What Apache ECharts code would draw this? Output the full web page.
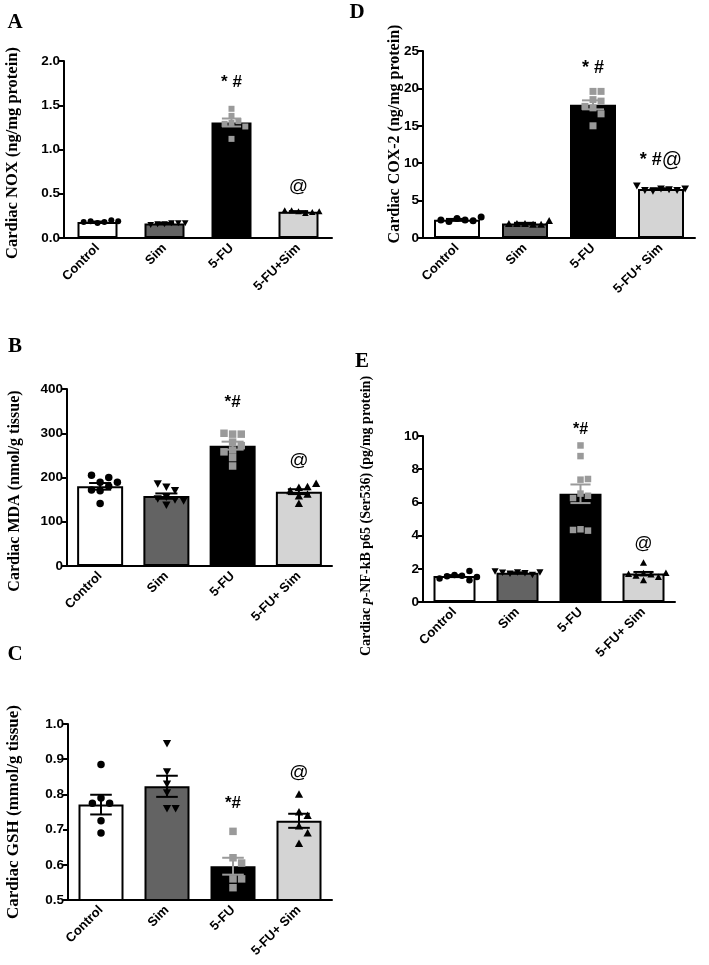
<!DOCTYPE html>
<html><head><meta charset="utf-8">
<script src="https://cdn.jsdelivr.net/npm/echarts@6/dist/echarts.min.js"></script>
<style>html,body{margin:0;padding:0;background:#fff}#c{width:709px;height:965px}</style>
</head><body><div id="c"></div>
<script>
// ---------- data ----------
const catsA = ['Control', 'Sim', '5-FU', '5-FU+Sim'];
const catsOther = ['Control', 'Sim', '5-FU', '5-FU+ Sim'];

// Panel A: Cardiac NOX (ng/mg protein)
const noxMeans = [0.18, 0.165, 1.305, 0.297];
const noxSem = [0.006, 0.006, 0.045, 0.007];
const noxControl = [0.17, 0.18, 0.19, 0.20, 0.18, 0.19];
const noxSim = [0.16, 0.17, 0.16, 0.17, 0.15, 0.17];
const noxFU = [1.46, 1.38, 1.32, 1.30, 1.29, 1.26, 1.12];
const noxFUSim = [0.30, 0.28, 0.31, 0.29, 0.31, 0.30];
const noxTicks = [0, 0.5, 1.0, 1.5, 2.0];

// Panel D: Cardiac COX-2 (ng/mg protein)
const coxMeans = [2.45, 1.95, 17.8, 6.55];
const coxSem = [0.1, 0.08, 0.6, 0.1];
const coxControl = [2.6, 2.4, 2.2, 2.3, 2.4, 2.8];
const coxSim = [1.9, 1.8, 1.9, 1.8, 1.9, 2.3];
const coxFU = [19.6, 19.6, 18.5, 18.3, 17.6, 17.4, 16.6, 15.0];
const coxFUSim = [6.6, 6.5, 6.3, 6.4, 6.4, 6.6, 7.0];
const coxTicks = [0, 5, 10, 15, 20, 25];

// Panel B: Cardiac MDA (nmol/g tissue)
const mdaMeans = [180, 158, 272, 168];
const mdaSem = [7.5, 6, 9, 5.5];
const mdaControl = [189, 200, 205, 189, 180, 170, 172, 141];
const mdaSim = [179, 171, 186, 156, 150, 138, 152, 148];
const mdaFU = [298, 298, 300, 280, 272, 262, 258, 245, 226];
const mdaFUSim = [177, 162, 170, 179, 186, 158, 141];
const mdaTicks = [0, 100, 200, 300, 400];

// Panel E: Cardiac p-NF-kB p65 (Ser536) (pg/mg protein)
const nfkbMeans = [1.56, 1.76, 6.52, 1.71];
const nfkbSem = [0.06, 0.03, 0.56, 0.1];
const nfkbControl = [1.62, 1.58, 1.55, 1.31, 1.42, 1.50, 1.86];
const nfkbSim = [1.80, 1.75, 1.72, 1.65, 1.78, 1.80, 1.85];
const nfkbFU = [9.43, 8.79, 7.37, 7.41, 6.53, 6.40, 6.26, 4.38, 4.30, 4.34];
const nfkbFUSim = [2.36, 1.72, 1.65, 1.58, 1.31, 1.50, 1.68, 1.75];
const nfkbTicks = [0, 2, 4, 6, 8, 10];

// Panel C: Cardiac GSH (mmol/g tissue)
const gshMeans = [0.771, 0.823, 0.596, 0.725];
const gshSem = [0.028, 0.03, 0.024, 0.02];
const gshControl = [0.885, 0.79, 0.775, 0.775, 0.725, 0.69];
const gshSim = [0.945, 0.865, 0.83, 0.805, 0.76, 0.76];
const gshFU = [0.695, 0.62, 0.605, 0.56, 0.56, 0.535];
const gshFUSim = [0.80, 0.75, 0.74, 0.71, 0.69, 0.66];
const gshTicks = [0.5, 0.6, 0.7, 0.8, 0.9, 1.0];

// significance marks: [category index, y value, stars/hash, at-sign]
const noxMarks = [[2, 1.76, '* #', ''], [3, 0.58, '', '@']];
const coxMarks = [[2, 22.7, '* #', ''], [3, 10.4, '* #', '@']];
const mdaMarks = [[2, 371, '*#', ''], [3, 238, '', '@']];
const nfkbMarks = [[2, 10.4, '*#', ''], [3, 3.5, '', '@']];
const gshMarks = [[2, 0.775, '*#', ''], [3, 0.862, '', '@']];

// ---------- styling / layout ----------
const SANS = 'Liberation Sans, Arial, sans-serif';
const SERIF = 'Liberation Serif, Times New Roman, serif';
const fills = ['#ffffff', '#636363', '#000000', '#d4d4d4'];
const ptColors = ['#000000', '#000000', '#9a9a9a', '#000000'];

const panels = [
  {letter: 'A', cats: catsA, means: noxMeans, sem: noxSem, pts: [noxControl, noxSim, noxFU, noxFUSim], ticks: noxTicks, dec: 1,
   shapes: ['circle', 'down', 'square', 'up'], grid: {left: 64, top: 61, width: 268, height: 177}, barWidth: 40, size: 6, marks: noxMarks, markSize: 17,
   title: 'Cardiac NOX (ng/mg protein)', tx: 13, ty: 153, tfs: 16.5, lx: 15, ly: 23},
  {letter: 'D', cats: catsOther, means: coxMeans, sem: coxSem, pts: [coxControl, coxSim, coxFU, coxFUSim], ticks: coxTicks, dec: 0,
   shapes: ['circle', 'up', 'square', 'down'], grid: {left: 423, top: 51, width: 272, height: 187}, barWidth: 46, size: 7, marks: coxMarks, markSize: 18,
   title: 'Cardiac COX-2 (ng/mg protein)', tx: 395, ty: 134, tfs: 16, lx: 357, ly: 13},
  {letter: 'B', cats: catsOther, means: mdaMeans, sem: mdaSem, pts: [mdaControl, mdaSim, mdaFU, mdaFUSim], ticks: mdaTicks, dec: 0,
   shapes: ['circle', 'down', 'square', 'up'], grid: {left: 67, top: 389, width: 265, height: 177}, barWidth: 46, size: 7.5, marks: mdaMarks, markSize: 17,
   title: 'Cardiac MDA (nmol/g tissue)', tx: 15, ty: 491, tfs: 16, lx: 15, ly: 347},
  {letter: 'E', cats: catsOther, means: nfkbMeans, sem: nfkbSem, pts: [nfkbControl, nfkbSim, nfkbFU, nfkbFUSim], ticks: nfkbTicks, dec: 0,
   shapes: ['circle', 'down', 'square', 'up'], grid: {left: 423, top: 436, width: 252, height: 166}, barWidth: 42, size: 6.5, marks: nfkbMarks, markSize: 16,
   title: 'Cardiac {i|p}-NF-kB p65 (Ser536) (pg/mg protein)', tx: 366, ty: 516, tfs: 14, lx: 362, ly: 362},
  {letter: 'C', cats: catsOther, means: gshMeans, sem: gshSem, pts: [gshControl, gshSim, gshFU, gshFUSim], ticks: gshTicks, dec: 1,
   shapes: ['circle', 'down', 'square', 'up'], grid: {left: 68, top: 724, width: 264, height: 176}, barWidth: 45, size: 7.5, marks: gshMarks, markSize: 17,
   title: 'Cardiac GSH (mmol/g tissue)', tx: 14, ty: 812, tfs: 17, lx: 15, ly: 655}
];

function symbolShape(kind, x, y, s, color) {
  const h = s / 2;
  const style = {fill: color};
  if (kind === 'circle') return {type: 'circle', shape: {cx: x, cy: y, r: h}, style};
  if (kind === 'square') return {type: 'rect', shape: {x: x - h, y: y - h, width: s, height: s}, style};
  if (kind === 'up') return {type: 'polygon', shape: {points: [[x, y - h * 1.1], [x + h * 1.1, y + h * 0.9], [x - h * 1.1, y + h * 0.9]]}, style};
  return {type: 'polygon', shape: {points: [[x, y + h * 1.1], [x + h * 1.1, y - h * 0.9], [x - h * 1.1, y - h * 0.9]]}, style};
}

// beeswarm-style horizontal spreading of overlapping points (pixel space)
function swarm(ys, s) {
  const d = s * 1.15;
  const offs = new Array(ys.length).fill(0);
  const placed = [];
  ys.forEach((y, i) => {
    const cands = [0];
    for (let k = 1; k < 12; k++) { cands.push(k * d, -k * d); }
    for (const c of cands) {
      const ok = placed.every(j => Math.abs(offs[j] - c) >= d * 0.99 || Math.abs(ys[j] - ys[i]) >= s);
      if (ok) { offs[i] = c; break; }
    }
    placed.push(i);
  });
  return offs;
}

const option = {
  animation: false,
  backgroundColor: '#fff',
  grid: [], xAxis: [], yAxis: [], series: [], graphic: []
};

panels.forEach((p, gi) => {
  option.grid.push(Object.assign({containLabel: false}, p.grid));
  option.xAxis.push({
    type: 'category', gridIndex: gi, data: p.cats,
    axisLine: {lineStyle: {color: '#000', width: 2}},
    axisTick: {alignWithLabel: true, length: 5, lineStyle: {color: '#000', width: 2}},
    axisLabel: {rotate: 45, interval: 0, margin: 8, color: '#000', fontFamily: SANS, fontWeight: 'bold', fontSize: 13}
  });
  const tk = p.ticks;
  option.yAxis.push({
    type: 'value', gridIndex: gi, min: tk[0], max: tk[tk.length - 1], interval: tk[1] - tk[0],
    splitLine: {show: false},
    axisLine: {show: true, lineStyle: {color: '#000', width: 2}},
    axisTick: {show: true, length: 5, lineStyle: {color: '#000', width: 2}},
    axisLabel: {margin: 4, color: '#000', fontFamily: SANS, fontWeight: 'bold', fontSize: 13.5,
      formatter: v => Number(v).toFixed(p.dec)}
  });
  // bars
  option.series.push({
    type: 'bar', xAxisIndex: gi, yAxisIndex: gi, barWidth: p.barWidth,
    data: p.means.map((m, i) => ({value: m, itemStyle: {color: fills[i], borderColor: '#000', borderWidth: 2}})),
    z: 2
  });
  // points
  const ptData = [];
  p.pts.forEach((arr, ci) => arr.forEach((v, j) => ptData.push([ci, v, j])));
  option.series.push({
    type: 'custom', xAxisIndex: gi, yAxisIndex: gi, data: ptData, z: 3, clip: false,
    renderItem: (params, api) => {
      const ci = api.value(0), j = api.value(2);
      const group = p.pts[ci];
      const ys = group.map(v => api.coord([ci, v])[1]);
      const offs = swarm(ys, p.size);
      const c = api.coord([ci, group[j]]);
      return symbolShape(p.shapes[ci], c[0] + offs[j], c[1], p.size, ptColors[ci]);
    }
  });
  // error bars (mean ± SEM)
  option.series.push({
    type: 'custom', xAxisIndex: gi, yAxisIndex: gi, z: 4, clip: false,
    data: p.means.map((m, i) => [i, m, p.sem[i]]),
    renderItem: (params, api) => {
      const i = api.value(0), m = api.value(1), s = api.value(2);
      const top = api.coord([i, m + s]), bot = api.coord([i, m - s]);
      const cw = p.barWidth * 0.24;
      const col = i === 2 ? '#9a9a9a' : '#000';
      const ls = {stroke: col, lineWidth: 2};
      return {type: 'group', children: [
        {type: 'line', shape: {x1: top[0], y1: top[1], x2: bot[0], y2: bot[1]}, style: ls},
        {type: 'line', shape: {x1: top[0] - cw, y1: top[1], x2: top[0] + cw, y2: top[1]}, style: ls},
        {type: 'line', shape: {x1: bot[0] - cw, y1: bot[1], x2: bot[0] + cw, y2: bot[1]}, style: ls}
      ]};
    }
  });
  // significance marks
  option.series.push({
    type: 'custom', xAxisIndex: gi, yAxisIndex: gi, z: 5, clip: false,
    data: p.marks.map((mk, k) => [mk[0], mk[1], k]),
    renderItem: (params, api) => {
      const mk = p.marks[api.value(2)];
      const c = api.coord([mk[0], mk[1]]);
      let txt = '';
      if (mk[2]) txt += '{b|' + mk[2] + '}';
      if (mk[3]) txt += '{a|' + mk[3] + '}';
      return {type: 'text', x: c[0], y: c[1], style: {
        text: txt, align: 'center', verticalAlign: 'middle',
        rich: {
          b: {fontFamily: SANS, fontWeight: 'bold', fontSize: p.markSize, fill: '#000'},
          a: {fontFamily: SANS, fontWeight: 'normal', fontSize: p.markSize + 2, fill: '#000'}
        }
      }};
    }
  });
  // y-axis title
  option.graphic.push({
    type: 'text', x: p.tx, y: p.ty, rotation: Math.PI / 2,
    style: {text: p.title, align: 'center', verticalAlign: 'middle',
      font: 'bold ' + p.tfs + 'px ' + SERIF, fill: '#000',
      rich: {i: {fontFamily: SERIF, fontWeight: 'bold', fontStyle: 'italic', fontSize: p.tfs, fill: '#000'}}}
  });
  // panel letter
  option.graphic.push({
    type: 'text', x: p.lx, y: p.ly,
    style: {text: p.letter, align: 'center', verticalAlign: 'middle', font: 'bold 21px ' + SERIF, fill: '#000'}
  });
});

const chart = echarts.init(document.getElementById('c'), null, {renderer: 'canvas'});
chart.setOption(option);
</script>
</body></html>
